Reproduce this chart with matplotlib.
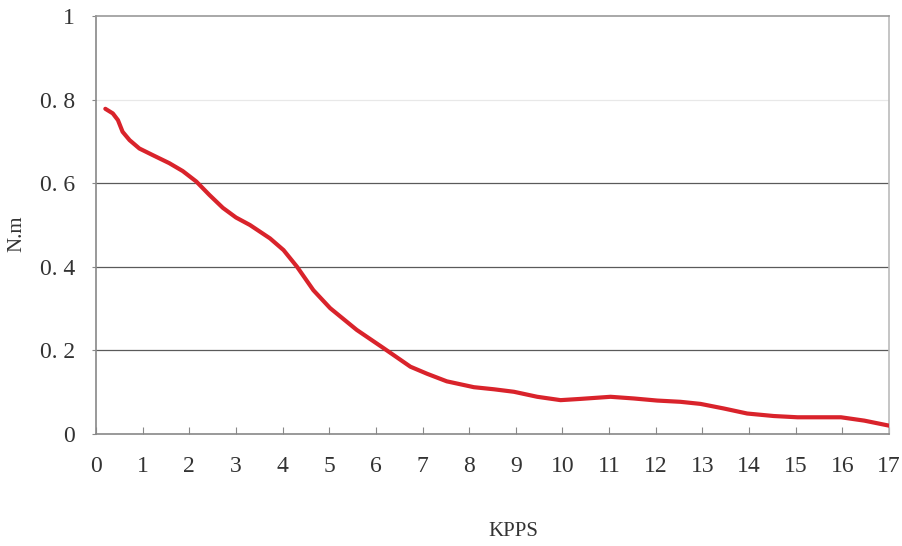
import numpy as np
import matplotlib.pyplot as plt

# speed (KPPS) vs torque (N.m)
kpps = [0.20, 0.36, 0.47, 0.57, 0.72, 0.93, 1.22, 1.57, 1.86, 2.15, 2.43, 2.72, 3.00, 3.30,
        3.73, 4.02, 4.31, 4.66, 5.02, 5.59, 6.17, 6.74, 7.10, 7.52, 8.10, 8.53, 8.96, 9.46,
        9.96, 10.39, 11.03, 11.53, 12.03, 12.53, 12.96, 13.46, 13.96, 14.53, 15.04, 15.97,
        16.47, 17.0]
torque = [0.778, 0.767, 0.751, 0.723, 0.703, 0.683, 0.667, 0.648, 0.629, 0.604, 0.572, 0.541,
          0.518, 0.500, 0.468, 0.440, 0.400, 0.344, 0.301, 0.249, 0.205, 0.161, 0.144, 0.126,
          0.112, 0.107, 0.101, 0.089, 0.081, 0.084, 0.089, 0.085, 0.080, 0.077, 0.072, 0.061,
          0.049, 0.043, 0.040, 0.040, 0.032, 0.020]

xticks = list(range(0, 18))
yticks = [0, 0.2, 0.4, 0.6, 0.8, 1]
ytick_labels = ['0', '0. 2', '0. 4', '0. 6', '0. 8', '1']

plt.rcParams['font.family'] = ['Liberation Serif', 'DejaVu Serif']

fig = plt.figure(figsize=(9.02, 5.46), dpi=100)
ax = fig.add_axes([96/902, 1-434/546, (889-96)/902, (434-16)/546])

# gridlines (0.8 one is very faint in the original)
for yv in yticks[1:-1]:
    c = '#e8e8e8' if yv == 0.8 else '#5a5a5a'
    ax.axhline(yv, color=c, lw=0.9, zorder=1)

ax.plot(kpps, torque, color='#d9232b', lw=3.0, solid_capstyle='round',
        solid_joinstyle='round', zorder=3)

ax.set_xlim(0, 17)
ax.set_ylim(0, 1)
ax.set_xticks(xticks)
ax.set_xticklabels([str(t) for t in xticks])
ax.set_yticks(yticks)
ax.set_yticklabels(ytick_labels)

ax.tick_params(axis='x', direction='in', length=5, width=0.8, color='#888888',
               labelsize=17, labelcolor='#333333', pad=16)
ax.tick_params(axis='y', direction='out', length=3, width=0.8, color='#888888',
               labelsize=17, labelcolor='#333333', pad=12)

ax.spines['left'].set_color('#888888')
ax.spines['bottom'].set_color('#888888')
ax.spines['top'].set_color('#999999')
ax.spines['right'].set_color('#bbbbbb')
for s in ax.spines.values():
    s.set_linewidth(1.2)

fig.text(513/902, 1-532/546, 'KPPS', ha='center', va='center', fontsize=15, color='#333333')
fig.text(17/902, 1-234/546, 'N.m', ha='center', va='center', rotation=90, fontsize=15, color='#333333')

fig.savefig('out.png', dpi=100)
